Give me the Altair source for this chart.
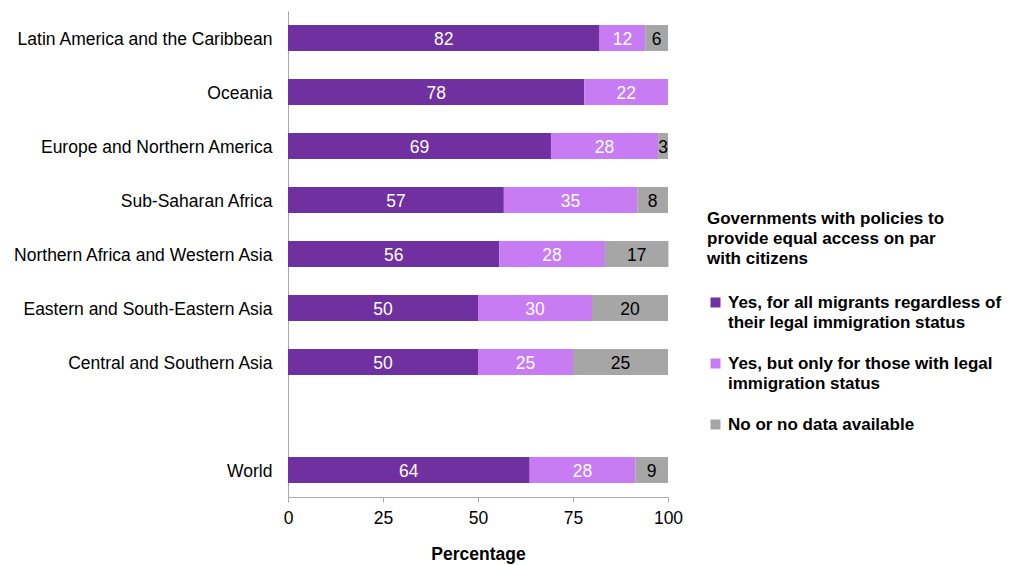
import altair as alt
import pandas as pd

regions = [
    "Latin America and the Caribbean",
    "Oceania",
    "Europe and Northern America",
    "Sub-Saharan Africa",
    "Northern Africa and Western Asia",
    "Eastern and South-Eastern Asia",
    "Central and Southern Asia",
    "World",
]
all_migrants = [82.0, 78.0, 69.2, 56.8, 55.6, 50.0, 50.0, 63.6]
legal_only = [12.0, 22.0, 28.2, 35.1, 27.8, 30.0, 25.0, 27.8]
no_data = [6.0, 0.0, 2.6, 8.1, 16.7, 20.0, 25.0, 8.6]

series = [
    "Yes, for all migrants regardless of|their legal immigration status",
    "Yes, but only for those with legal|immigration status",
    "No or no data available",
]
colors = ["#7030A0", "#C77CF3", "#A6A6A6"]
text_colors = ["white", "white", "black"]
y_domain = regions[:7] + [""] + ["World"]
x_ticks = [0, 25, 50, 75, 100]

rows = []
for i, r in enumerate(regions):
    for k, vals in enumerate([all_migrants, legal_only, no_data]):
        rows.append({"region": r, "series": series[k], "order": k,
                     "value": vals[i], "tcolor": text_colors[k]})
df = pd.DataFrame(rows)

FONT = "Liberation Sans"
FS = 17
AFS = 17.5

base = alt.Chart(df)

bars = base.mark_bar(size=26).encode(
    y=alt.Y("region:N", scale=alt.Scale(domain=y_domain),
            axis=alt.Axis(title=None, ticks=False, labelPadding=16,
                          labelFontSize=AFS, labelColor="black",
                          labelOffset=1.5,
                          domainColor="#aaaaaa", labelLimit=400)),
    x=alt.X("value:Q", stack="zero", scale=alt.Scale(domain=[0, 100]),
            axis=alt.Axis(values=x_ticks, title="Percentage", grid=False,
                          labelFontSize=AFS, labelColor="black",
                          labelFlush=False,
                          domainColor="#aaaaaa", tickColor="#aaaaaa",
                          tickSize=5, labelPadding=7,
                          titleFontSize=AFS, titleFontWeight="bold",
                          titleColor="black", titlePadding=19)),
    color=alt.Color("series:N", scale=alt.Scale(domain=series, range=colors),
                    legend=alt.Legend(
                        orient="none", legendX=419, legendY=200,
                        title=["Governments with policies to",
                               "provide equal access on par",
                               "with citizens"],
                        titleFontSize=FS, titleFontWeight="bold",
                        titleColor="black", titleLimit=400, titlePadding=26,
                        titleLineHeight=20,
                        labelFontSize=FS, labelFontWeight="bold",
                        labelColor="black", labelLimit=400,
                        labelExpr="split(datum.label, '|')",
                        symbolType="square", symbolSize=100,
                        symbolStrokeWidth=0, rowPadding=23, labelOffset=4)),
    order=alt.Order("order:Q"),
)

labels = base.transform_filter("datum.value > 0").transform_stack(
    stack="value", as_=["x0", "x1"], groupby=["region"],
    sort=[alt.SortField("order", order="ascending")]
).transform_calculate(mid="(datum.x0 + datum.x1) / 2").mark_text(
    fontSize=AFS, font=FONT, dy=1.5
).encode(
    y=alt.Y("region:N", scale=alt.Scale(domain=y_domain)),
    x=alt.X("mid:Q"),
    text=alt.Text("value:Q", format=".0f"),
    color=alt.Color("tcolor:N", scale=None),
)

chart = (bars + labels).properties(
    width=380, height=486,
    autosize=alt.AutoSizeParams(type="none"),
    padding={"left": 280, "top": 3, "right": 336, "bottom": 68},
).configure(font=FONT, style={"guide-label": {"lineHeight": 20}}).configure_view(stroke=None)

chart.save("out.html", embed_options={"renderer": "svg", "actions": False})
